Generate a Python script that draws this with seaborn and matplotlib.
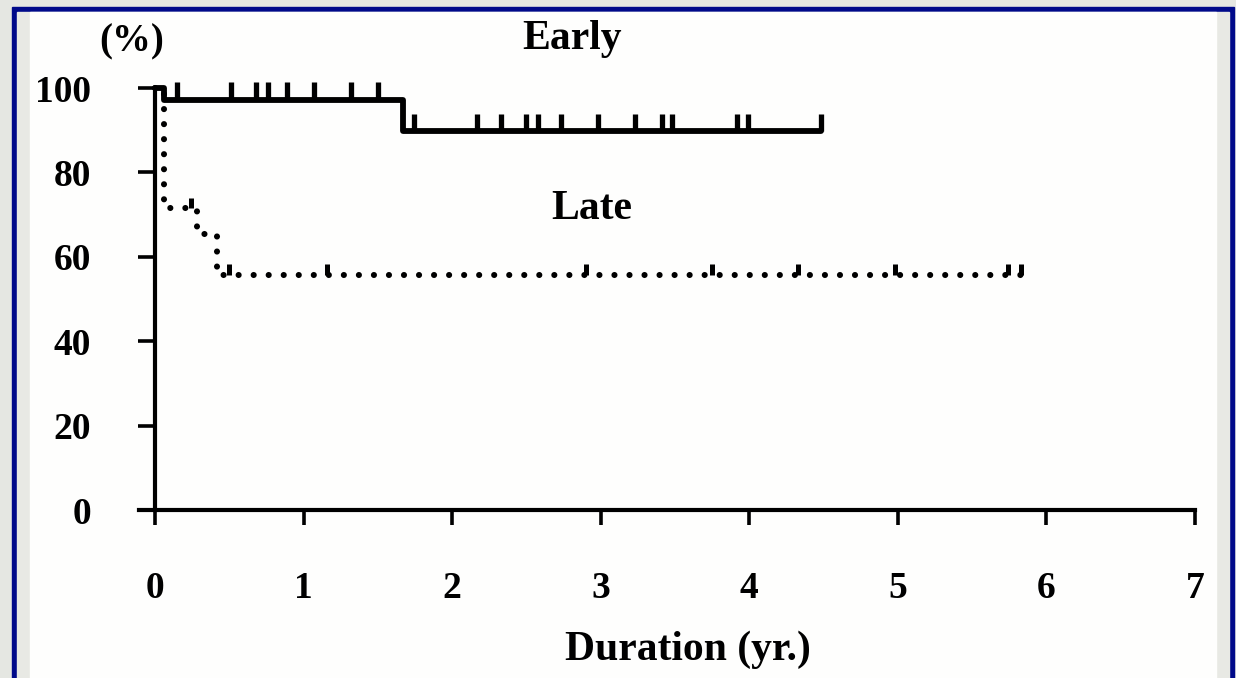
import numpy as np
import pandas as pd
import seaborn as sns
import matplotlib.pyplot as plt
from matplotlib.patches import Rectangle

# step curves (years, % surviving)
early_times = [0, 0.06, 1.67, 4.48]
early_surv = [100, 97.2, 89.7, 89.7]
early_censor = [0.15, 0.51, 0.68, 0.76, 0.89, 1.07, 1.32, 1.50,
                1.74, 2.17, 2.33, 2.50, 2.58, 2.73, 2.98, 3.23, 3.41, 3.48, 3.92, 3.99, 4.48]

late_times = [0, 0.06, 0.28, 0.42, 5.83]
late_surv = [100, 71.5, 65.5, 55.7, 55.7]
late_censor = [0.24, 0.50, 1.16, 2.90, 3.75, 4.33, 4.98, 5.74, 5.83]

x_ticks = [0, 1, 2, 3, 4, 5, 6, 7]
y_ticks = [0, 20, 40, 60, 80, 100]


def level_at(times, surv, t):
    # value of the step curve at time t
    idx = np.searchsorted(times, t, side='right') - 1
    return np.array(surv)[idx]


sns.set_style('white')
plt.rcParams['font.family'] = ['Liberation Serif', 'DejaVu Serif']
plt.rcParams['font.weight'] = 'bold'
plt.rcParams['text.color'] = 'black'

W, H = 1236, 678
fig = plt.figure(figsize=(W / 100, H / 100), dpi=100, facecolor='#e5e7e2')


# slide-like frame
def px_rect(x0, y0, x1, y1, color):
    fig.patches.append(Rectangle((x0 / W, 1 - y1 / H), (x1 - x0) / W, (y1 - y0) / H,
                                 transform=fig.transFigure, color=color, zorder=-10))


px_rect(12, 7, 1234, 690, '#000a8a')
px_rect(17, 12, 1229, 690, '#e8e9e4')
px_rect(30, 12, 1216, 690, '#fefefd')

x_left = 155 - 0.11 * 148.6
ax = fig.add_axes([x_left / W, (H - 510) / H, (1195 - x_left) / W, 422 / H])
ax.patch.set_alpha(0)

early = pd.DataFrame({'t': early_times, 's': early_surv})
late = pd.DataFrame({'t': late_times, 's': late_surv})

sns.lineplot(data=early, x='t', y='s', ax=ax, estimator=None, sort=False,
             drawstyle='steps-post', color='black', linewidth=4.2, clip_on=False)
sns.lineplot(data=late, x='t', y='s', ax=ax, estimator=None, sort=False,
             drawstyle='steps-post', color='black', linewidth=4.4,
             linestyle=(0, (0.01, 2.45)), dash_capstyle='round', clip_on=False)

# censor marks
ec = level_at(early_times, early_surv, early_censor)
ax.vlines(early_censor, ec, ec + 4.2, color='black', linewidth=3.8, clip_on=False)
lc = level_at(late_times, late_surv, late_censor)
ax.vlines(late_censor, lc, lc + 2.5, color='black', linewidth=3.6, clip_on=False)

ax.set_xlim(-0.11, 7)
ax.set_ylim(0, 100)
ax.set_xticks(x_ticks)
ax.set_yticks(y_ticks)
ax.set_xlabel('')
ax.set_ylabel('')

for side in ['top', 'right']:
    ax.spines[side].set_visible(False)
ax.spines['left'].set_position(('data', 0))
for side in ['left', 'bottom']:
    ax.spines[side].set_linewidth(3)
    ax.spines[side].set_color('black')

ax.tick_params(axis='x', bottom=True, direction='out', length=11, width=2.6, pad=33,
               labelsize=27, colors='black')
ax.tick_params(axis='y', left=True, direction='out', length=12, width=2.6, pad=34,
               labelsize=27, colors='black')

ax.text(-0.16, 111, '(%)', ha='center', va='center', fontsize=28, fontweight='bold')
ax.text(2.81, 111.5, 'Early', ha='center', va='center', fontsize=30, fontweight='bold')
ax.text(2.94, 71.3, 'Late', ha='center', va='center', fontsize=30, fontweight='bold')
ax.text(3.59, -33.2, 'Duration (yr.)', ha='center', va='center', fontsize=30, fontweight='bold')

fig.savefig('out.png', dpi=100, facecolor=fig.get_facecolor())
